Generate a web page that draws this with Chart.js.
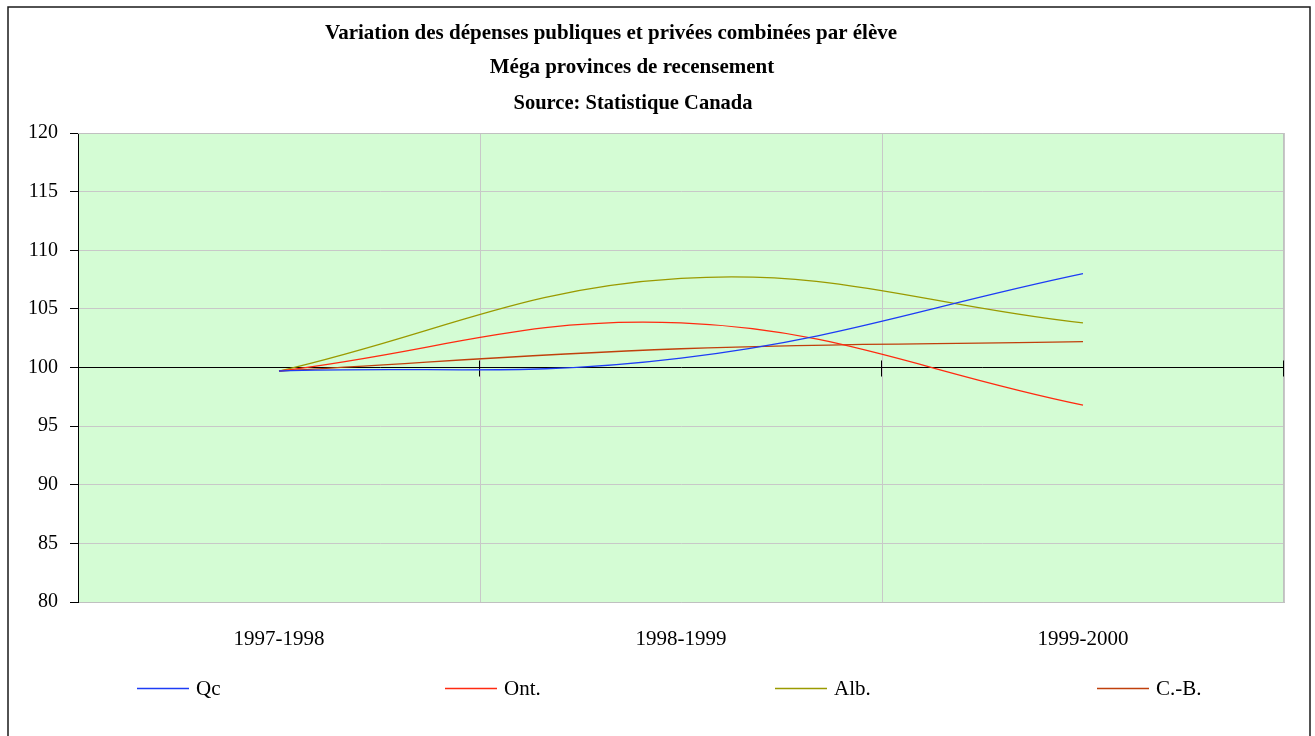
<!DOCTYPE html>
<html>
<head>
<meta charset="utf-8">
<script src="https://cdn.jsdelivr.net/npm/chart.js@4.4.1/dist/chart.umd.min.js"></script>
<style>
    html, body { margin: 0; padding: 0; background: #ffffff; }
    canvas { display: block; }
</style>
</head>
<body>
<canvas id="myChart" width="1315" height="736"></canvas>
<script>
// donnees (indice, base ~100)
var categories = ['1997-1998', '1998-1999', '1999-2000'];
var qcValues = [99.7, 100.8, 108.0];
var ontValues = [99.7, 103.8, 96.8];
var albValues = [99.7, 107.6, 103.8];
var cbValues = [99.7, 101.6, 102.2];
var seriesNames = ['Qc', 'Ont.', 'Alb.', 'C.-B.'];
var yMin = 80, yMax = 120, yStep = 5;
var titleLines = [
    'Variation des dépenses publiques et privées combinées par élève',
    'Méga provinces de recensement',
    'Source: Statistique Canada'
];

// mise en page (pas des donnees)
var titleLayout = [
    { x: 611, y: 39, w: 583 },
    { x: 632, y: 73, w: 288 },
    { x: 633, y: 109, w: 239 }
];
var legendX = [137, 445, 775, 1097];
var legendY = 688;

var serif = '"Liberation Serif", "DejaVu Serif", serif';

var decor = {
    id: 'decor',
    beforeDraw: function (chart) {
        var c = chart.ctx, a = chart.chartArea;
        c.save();
        c.fillStyle = '#d4fcd4';
        c.fillRect(a.left, a.top, a.right - a.left, a.bottom - a.top);
        c.restore();
    },
    beforeDatasetsDraw: function (chart) {
        var c = chart.ctx, a = chart.chartArea;
        var xs = chart.scales.x, ys = chart.scales.y;
        c.save();
        // cadre gris du trace
        c.strokeStyle = '#c0c0c0';
        c.lineWidth = 1;
        c.beginPath();
        c.moveTo(a.left, a.top + 0.5);
        c.lineTo(a.right - 0.5, a.top + 0.5);
        c.lineTo(a.right - 0.5, a.bottom);
        c.stroke();
        // graduations de l'axe des categories sur la ligne 100
        var y100 = Math.round(ys.getPixelForValue(100)) + 0.5;
        var half = (xs.getPixelForValue(1) - xs.getPixelForValue(0)) / 2;
        c.strokeStyle = '#000000';
        c.beginPath();
        for (var i = 0; i < categories.length; i++) {
            var bx = Math.round(xs.getPixelForValue(i) + half) - 0.5;
            c.moveTo(bx, y100 - 8);
            c.lineTo(bx, y100 + 8);
        }
        c.stroke();
        c.restore();
    },
    afterDraw: function (chart) {
        var c = chart.ctx;
        c.save();
        // titre
        c.fillStyle = '#000000';
        c.textAlign = 'center';
        c.textBaseline = 'alphabetic';
        c.font = 'bold 21px ' + serif;
        titleLines.forEach(function (t, i) {
            var l = titleLayout[i];
            c.fillText(t, l.x, l.y, l.w);
        });
        // legende
        c.font = '21px ' + serif;
        c.textAlign = 'left';
        c.textBaseline = 'middle';
        chart.data.datasets.forEach(function (ds, i) {
            var lx = legendX[i];
            c.strokeStyle = ds.borderColor;
            c.lineWidth = 1.3;
            c.beginPath();
            c.moveTo(lx, legendY + 0.5);
            c.lineTo(lx + 52, legendY + 0.5);
            c.stroke();
            c.fillStyle = '#000000';
            c.fillText(ds.label, lx + 59, legendY + 1);
        });
        // cadre exterieur
        c.strokeStyle = '#1a1a1a';
        c.lineWidth = 1.5;
        c.strokeRect(8, 7, 1302, 745);
        c.restore();
    }
};

var ctx = document.getElementById('myChart').getContext('2d');

var myChart = new Chart(ctx, {
    type: 'line',
    data: {
        labels: categories,
        datasets: [{
            label: seriesNames[0],
            data: qcValues,
            borderColor: '#1d3cf5'
        }, {
            label: seriesNames[1],
            data: ontValues,
            borderColor: '#ff2a10'
        }, {
            label: seriesNames[2],
            data: albValues,
            borderColor: '#9a9a00'
        }, {
            label: seriesNames[3],
            data: cbValues,
            borderColor: '#c0400c'
        }]
    },
    options: {
        responsive: false,
        animation: false,
        devicePixelRatio: 1,
        layout: {
            padding: { top: 133, left: 8, right: 31, bottom: 0 }
        },
        elements: {
            line: { borderWidth: 1.3, tension: 0.4, fill: false },
            point: { radius: 0, hoverRadius: 0 }
        },
        plugins: {
            legend: { display: false },
            title: { display: false },
            tooltip: { enabled: false }
        },
        scales: {
            x: {
                type: 'category',
                offset: true,
                afterFit: function (s) { s.height = 134; },
                grid: {
                    offset: true,
                    color: '#c8c8c8',
                    drawTicks: false
                },
                border: { color: '#c0c0c0' },
                ticks: {
                    color: '#000000',
                    padding: 25,
                    font: { family: serif, size: 21 }
                }
            },
            y: {
                min: yMin,
                max: yMax,
                afterFit: function (s) { s.width = 70; },
                grid: {
                    color: function (c) {
                        return c.tick && c.tick.value === 100 ? '#000000' : '#c8c8c8';
                    },
                    tickColor: '#000000',
                    tickLength: 8
                },
                border: { color: '#000000' },
                ticks: {
                    stepSize: yStep,
                    color: '#000000',
                    padding: 12,
                    font: { family: serif, size: 20 }
                }
            }
        }
    },
    plugins: [decor]
});
</script>
</body>
</html>
